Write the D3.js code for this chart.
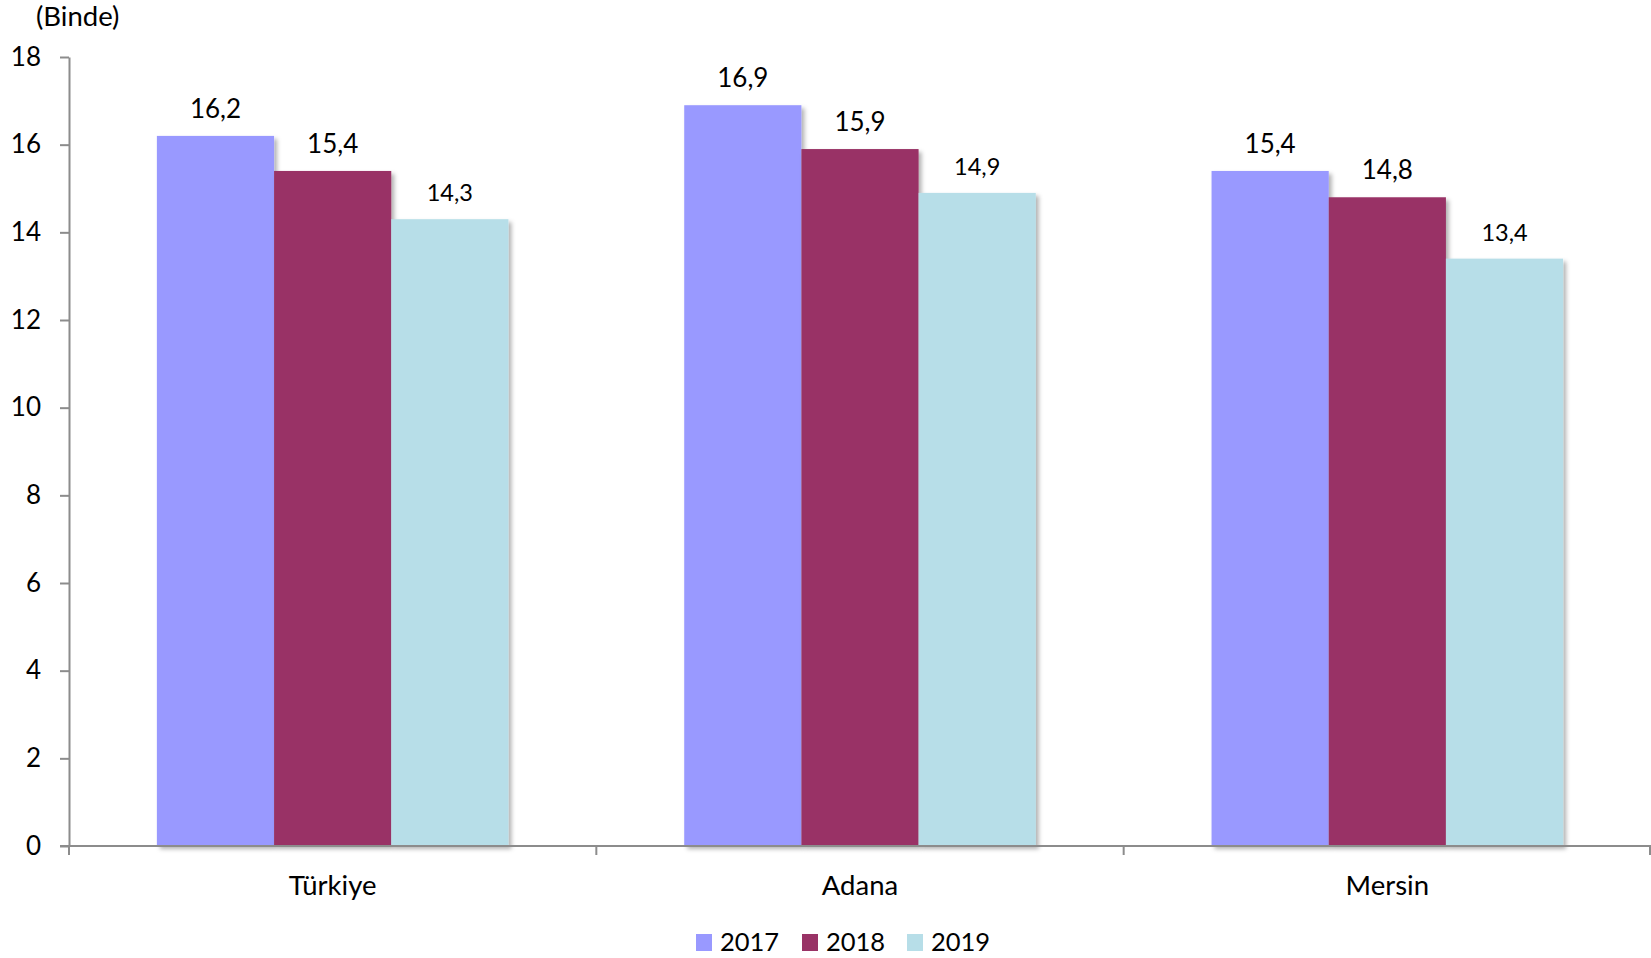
<!DOCTYPE html>
<html><head><meta charset="utf-8">
<script src="https://cdn.jsdelivr.net/npm/d3@7"></script>
<style>body{margin:0;background:#fff}svg{display:block}text{font-family:Lato,"Open Sans",sans-serif;fill:#000}</style>
</head><body><svg id="c" width="1651" height="958"></svg>
<script>
const categories = ["Türkiye", "Adana", "Mersin"];
const years = ["2017", "2018", "2019"];
const v2017 = [16.2, 16.9, 15.4];
const v2018 = [15.4, 15.9, 14.8];
const v2019 = [14.3, 14.9, 13.4];
const yTicks = [0, 2, 4, 6, 8, 10, 12, 14, 16, 18];
const colors = ["#9999FF", "#993366", "#B7DEE8"];
const series = [v2017, v2018, v2019];

const svg = d3.select("#c");
const mLeft = 69, mRight = 1651, mTop = 57, mBottom = 846;
const x0 = d3.scaleBand().domain(categories).range([mLeft, mRight]).paddingInner(1/3).paddingOuter(1/6);
const x1 = d3.scaleBand().domain(years).range([0, x0.bandwidth()]);
const y = d3.scaleLinear().domain([0, 18]).range([mBottom, mTop]);

const defs = svg.append("defs");
const f = defs.append("filter").attr("id", "sh").attr("x", "-10%").attr("y", "-10%").attr("width", "130%").attr("height", "130%");
f.append("feDropShadow").attr("dx", 3).attr("dy", 3).attr("stdDeviation", 2).attr("flood-color", "#000").attr("flood-opacity", 0.3);

const fmt = v => String(v.toFixed(1)).replace(".", ",");

categories.forEach((c, i) => {
  const g = svg.append("g").attr("transform", `translate(${x0(c)},0)`);
  years.forEach((yr, j) => {
    const v = series[j][i];
    g.append("rect").attr("x", x1(yr)).attr("y", y(v)).attr("width", x1.bandwidth()).attr("height", y(0) - y(v))
      .attr("fill", colors[j]).attr("filter", "url(#sh)");
  });
  years.forEach((yr, j) => {
    const v = series[j][i];
    g.append("text").attr("x", x1(yr) + x1.bandwidth() / 2).attr("y", y(v) - 18)
      .attr("text-anchor", "middle").style("font-size", j === 2 ? "23.5px" : "26px").text(fmt(v));
  });
});

// Y axis
const yAxis = svg.append("g").attr("transform", `translate(${mLeft},0)`)
  .call(d3.axisLeft(y).tickValues(yTicks).tickSize(9).tickPadding(19).tickSizeOuter(0));
yAxis.select(".domain").attr("stroke", "#8c8c8c").attr("stroke-width", 2);
yAxis.selectAll(".tick line").attr("stroke", "#8c8c8c").attr("stroke-width", 2);
yAxis.selectAll(".tick text").style("font-size", "26px").style("font-family", "Lato").attr("fill", "#000");

// X axis
const xAxis = svg.append("g").attr("transform", `translate(0,${mBottom})`);
xAxis.append("line").attr("x1", mLeft - 9).attr("x2", mRight).attr("y1", 0).attr("y2", 0).attr("stroke", "#8c8c8c").attr("stroke-width", 2);
const bounds = categories.map(c => x0(c) - x0.step() * x0.paddingInner() / 2).concat([mRight - 1]);
bounds.forEach(b => xAxis.append("line").attr("x1", b).attr("x2", b).attr("y1", 0).attr("y2", 9).attr("stroke", "#8c8c8c").attr("stroke-width", 2));
categories.forEach(c => xAxis.append("text").attr("x", x0(c) + x0.bandwidth() / 2).attr("y", 49)
  .attr("text-anchor", "middle").style("font-size", "27.5px").text(c));

svg.append("text").attr("x", 36).attr("y", 26).style("font-size", "27.5px").text("(Binde)");

// Legend
const legX = [696, 802, 907];
years.forEach((yr, j) => {
  svg.append("rect").attr("x", legX[j]).attr("y", 934).attr("width", 16).attr("height", 17).attr("fill", colors[j]);
  svg.append("text").attr("x", legX[j] + 24).attr("y", 951).style("font-size", "25.5px").text(yr);
});
</script></body></html>
